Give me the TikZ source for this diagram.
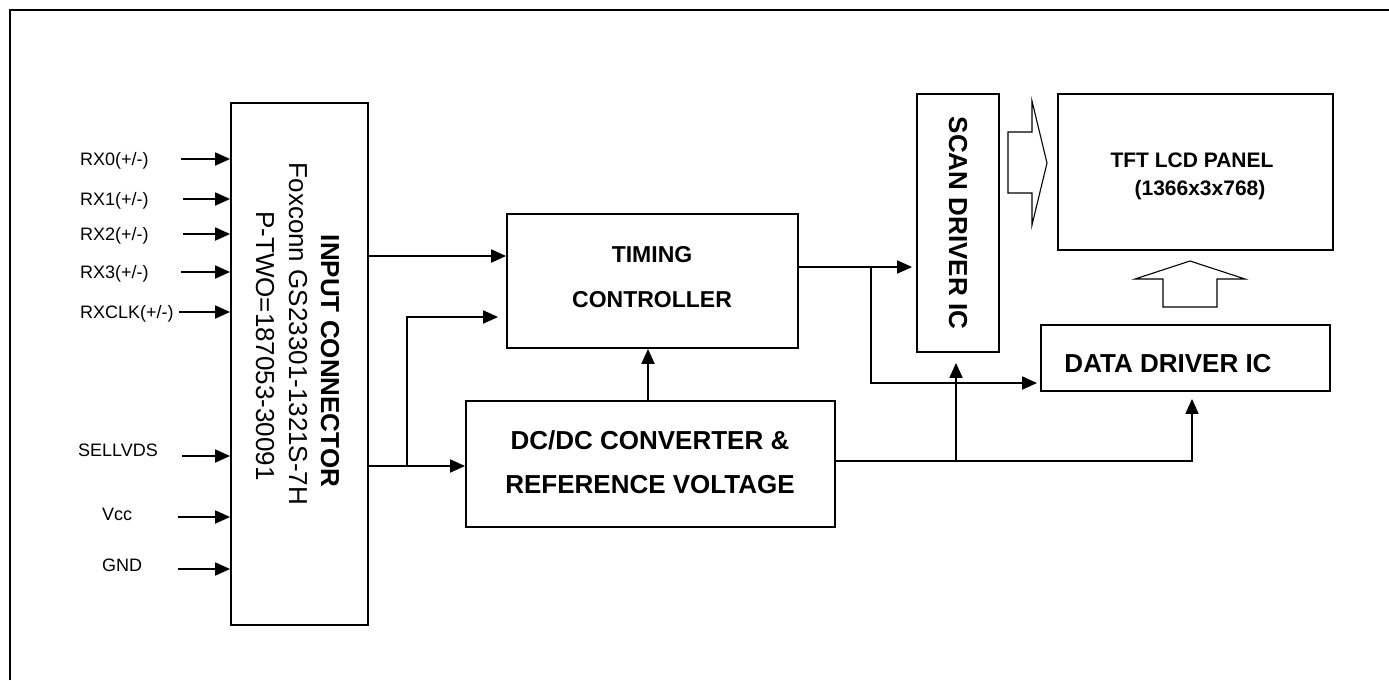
\documentclass[tikz,border=0pt]{standalone}
\usepackage{fontspec}
\setmainfont{Liberation Sans}
\usetikzlibrary{arrows.meta}
\begin{document}
\begin{tikzpicture}[x=1pt,y=-1pt,
  box/.style={draw, line width=1.8pt, inner sep=0pt},
  arr/.style={line width=1.8pt, -{Triangle[length=15pt,width=13pt]}},
  lbl/.style={font=\fontsize{18}{21}\selectfont, inner sep=0pt, anchor=west},
  bt/.style={font=\bfseries\fontsize{26}{31}\selectfont, inner sep=0pt},
  bts/.style={font=\bfseries\fontsize{23}{28}\selectfont, inner sep=0pt},
  btp/.style={font=\bfseries\fontsize{21}{25}\selectfont, inner sep=0pt},
  rt/.style={font=\fontsize{26}{31}\selectfont, inner sep=0pt},
  hollow/.style={draw, line width=1.1pt, line join=miter, fill=white},
]
\useasboundingbox (0,0) rectangle (1389,680);
\draw[line width=1.8pt] (10,680) -- (10,10) -- (1389,10);

% boxes
\node[box, minimum width=137pt, minimum height=522pt] (ic) at (299.5,364) {};
\node[box, minimum width=291pt, minimum height=134pt] (tc) at (652.5,281) {};
\node[box, minimum width=369pt, minimum height=126pt] (dc) at (650.5,464) {};
\node[box, minimum width=82pt, minimum height=258pt] (sc) at (958,223) {};
\node[box, minimum width=275pt, minimum height=156pt] (tft) at (1195.5,172) {};
\node[box, minimum width=289pt, minimum height=66pt] (dd) at (1185.5,358) {};

% texts
\node[bt, rotate=-90] (t1) at (330,361) {INPUT CONNECTOR};
\node[rt, rotate=-90] (t2) at (298,334) {Foxconn GS23301-1321S-7H};
\node[rt, rotate=-90] (t3) at (265,346) {P-TWO=187053-30091};
\node[bts] (t4) at (652,255) {TIMING};
\node[bts] (t5) at (652,300) {CONTROLLER};
\node[bt] (t6) at (650,440) {DC/DC CONVERTER \&};
\node[bt] (t7) at (650,485) {REFERENCE VOLTAGE};
\node[bt, rotate=-90] (t8) at (958,223) {SCAN DRIVER IC};
\node[btp] (t9) at (1192,160) {TFT LCD PANEL};
\node[btp] (t10) at (1200,190) {(1366x3x768)};
\node[bt] (t11) at (1168,364) {DATA DRIVER IC};

% input labels
\node[lbl] (l0) at (80,161) {RX0(+/-)};
\node[lbl] (l1) at (80,201) {RX1(+/-)};
\node[lbl] (l2) at (80,236) {RX2(+/-)};
\node[lbl] (l3) at (80,274) {RX3(+/-)};
\node[lbl] (l4) at (80,314) {RXCLK(+/-)};
\node[lbl] (l5) at (78,450) {SELLVDS};
\node[lbl] (l6) at (102,514) {Vcc};
\node[lbl] (l7) at (102,565) {GND};

\coordinate (s0) at (181,159);
\coordinate (s1) at (183,199);
\coordinate (s2) at (183,234);
\coordinate (s3) at (181,272);
\coordinate (s4) at (179,312);
\coordinate (s5) at (182,456);
\coordinate (s6) at (178,517);
\coordinate (s7) at (178,569);
\foreach \s in {s0,s1,s2,s3,s4,s5,s6,s7}
  \draw[arr] (\s) -- (\s -| ic.west);

% connectors
\coordinate (a1) at (368,256);
\draw[arr] (a1) -- (a1 -| tc.west);
\coordinate (a2) at (368,466);
\draw[arr] (a2) -- (a2 -| dc.west);
\coordinate (j1) at (407,466);
\coordinate (j1t) at (407,317);
\draw[arr, shorten >=8pt] (j1) -- (j1t) -- (j1t -| tc.west);
\coordinate (k) at (648,0);
\draw[arr] (k |- dc.north) -- (k |- tc.south);
\coordinate (b1) at (798,267);
\draw[arr, shorten >=4pt] (b1) -- (b1 -| sc.west);
\coordinate (j2) at (871,267);
\coordinate (j2b) at (871,383);
\draw[arr, shorten >=3pt] (j2) -- (j2b) -- (j2b -| dd.west);
\coordinate (c1) at (835,461);
\coordinate (c2) at (1192,461);
\draw[arr, shorten >=7pt] (c1) -- (c2) -- (c2 |- dd.south);
\coordinate (j3) at (956,461);
\draw[arr, shorten >=10pt] (j3) -- (j3 |- sc.south);

% hollow arrows
\draw[hollow] (1008,132) -- (1032,132) -- (1032,101) -- (1047,163) -- (1032,225) -- (1032,193) -- (1008,193) -- cycle;
\draw[hollow] (1163,307) -- (1163,279) -- (1135,279) -- (1190,261) -- (1245,279) -- (1217,279) -- (1217,307) -- cycle;
\end{tikzpicture}
\end{document}
